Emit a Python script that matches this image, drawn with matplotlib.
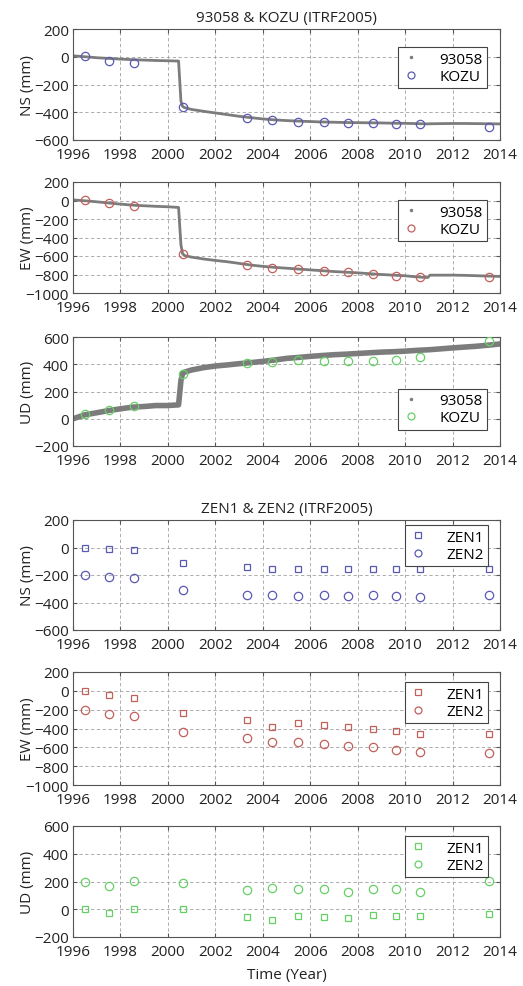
import matplotlib
matplotlib.use("Agg")
import matplotlib.pyplot as plt
from matplotlib.lines import Line2D

plt.rcParams['font.family'] = ['Open Sans', 'DejaVu Sans']
plt.rcParams['font.size'] = 11

# campaign epochs (KOZU / ZEN1 / ZEN2)
epochs = [1996.5, 1997.5, 1998.57, 2000.62, 2003.33, 2004.38, 2005.5, 2006.6,
          2007.58, 2008.63, 2009.62, 2010.62, 2013.55]

# continuous station 93058
t_93058 = [1996.0, 1996.5, 1997.0, 1997.5, 1998.0, 1998.5, 1999.0, 1999.5, 2000.0,
           2000.45, 2000.55, 2000.62, 2000.7, 2001.0, 2001.5, 2002.0, 2002.5, 2003.0,
           2003.5, 2004.0, 2004.5, 2005.0, 2005.5, 2006.0, 2006.5, 2007.0, 2007.5,
           2008.0, 2008.5, 2009.0, 2009.5, 2010.0, 2010.5, 2010.95, 2011.05, 2011.5,
           2012.0, 2012.5, 2013.0, 2013.5, 2014.0]
ns_93058 = [7, 0, -7, -12, -17, -21, -24, -27, -29,
            -31, -320, -358, -366, -380, -393, -405, -417, -429,
            -439, -448, -455, -460, -464, -467, -470, -472, -474,
            -475, -476, -477, -479, -480, -482, -484, -483, -482,
            -481, -481, -482, -483, -484]
ew_93058 = [7, -3, -14, -27, -39, -50, -57, -63, -68,
            -75, -480, -575, -595, -612, -632, -648, -662, -680,
            -698, -712, -723, -732, -741, -750, -759, -768, -775,
            -782, -791, -800, -807, -814, -826, -833, -807, -807,
            -807, -809, -813, -817, -821]
ud_93058 = [0, 29, 44, 60, 73, 85, 90, 97, 97,
            102, 280, 335, 342, 358, 375, 387, 395, 404,
            412, 421, 431, 443, 450, 458, 464, 470, 474,
            479, 484, 489, 492, 496, 502, 506, 507, 513,
            520, 526, 532, 540, 549]

kozu_ns = [5, -28, -48, -361, -443, -458, -470, -470, -477, -480, -482, -487, -506]
kozu_ew = [2, -29, -62, -579, -700, -725, -739, -757, -775, -793, -811, -832, -832]
kozu_ud = [34, 65, 90, 332, 407, 417, 431, 421, 426, 424, 431, 453, 572]

zen1_ns = [0, -12, -17, -110, -141, -154, -154, -154, -159, -154, -154, -154, -157]
zen2_ns = [-202, -215, -220, -310, -342, -346, -354, -349, -354, -346, -354, -359, -349]
zen1_ew = [0, -39, -75, -236, -311, -379, -346, -368, -379, -404, -425, -454, -461]
zen2_ew = [-200, -243, -271, -432, -504, -539, -546, -564, -582, -600, -629, -646, -657]
zen1_ud = [0, -24, 5, 0, -55, -74, -50, -55, -62, -43, -48, -50, -33]
zen2_ud = [200, 167, 202, 190, 138, 152, 143, 143, 126, 148, 143, 126, 207]

ylims = {'NS': (-600, 200), 'EW': (-1000, 200), 'UD': (-200, 600)}

blue = '#5a5ab4'
red = '#c2605c'
green = '#66d066'
gray = '#7c7c7c'
txt = '#222222'

W, H = 523, 987
fig = plt.figure(figsize=(W / 100, H / 100), dpi=100)

# pixel boxes (top, bottom) of the six panels
boxes = [(30, 141), (183, 294), (338, 447), (521, 631), (673, 786), (827, 938)]
left, right = 73, 500

def make_ax(top, bottom, comp):
    ax = fig.add_axes([left / W, 1 - bottom / H, (right - left) / W, (bottom - top) / H])
    ax.set_xlim(1996, 2014)
    ax.set_xticks(range(1996, 2015, 2))
    lo, hi = ylims[comp]
    ax.set_ylim(lo, hi)
    ax.set_yticks(range(lo, hi + 1, 200))
    ax.grid(True, color='#a0a0a0', lw=0.6, ls=(0, (4, 3)))
    ax.tick_params(direction='in', length=3, top=True, right=True, color='#555555',
                   labelcolor=txt, labelsize=11, pad=3)
    ax.tick_params(axis='x', pad=5)
    for s in ax.spines.values():
        s.set_color('#555555')
        s.set_linewidth(0.8)
    ax.set_ylabel(comp + ' (mm)', fontsize=11, color=txt)
    ax.yaxis.set_label_coords(-0.09, 0.5)
    return ax

def legend(ax, handles, labels, loc, anchor):
    leg = ax.legend(handles, labels, loc=loc, bbox_to_anchor=anchor, borderaxespad=0,
                    fancybox=False, framealpha=1, edgecolor='#444444', fontsize=11,
                    handlelength=1.1, handletextpad=1.3, borderpad=0.3, labelspacing=0.15)
    leg.get_frame().set_linewidth(0.8)

comps = ['NS', 'EW', 'UD']
kozu = [kozu_ns, kozu_ew, kozu_ud]
cont = [ns_93058, ew_93058, ud_93058]
zen1 = [zen1_ns, zen1_ew, zen1_ud]
zen2 = [zen2_ns, zen2_ew, zen2_ud]
colors = [blue, red, green]
band = [2.0, 2.0, 4.0]

for i in range(3):
    top, bottom = boxes[i]
    ax = make_ax(top, bottom, comps[i])
    ax.plot(t_93058, cont[i], color=gray, lw=band[i], solid_joinstyle='round', zorder=2)
    ax.plot(epochs, kozu[i], ls='none', marker='o', ms=6, mfc='none', mec=colors[i],
            mew=0.9, zorder=3)
    h1 = Line2D([], [], ls='none', marker='.', ms=3, color=gray)
    h2 = Line2D([], [], ls='none', marker='o', ms=5, mfc='none', mec=colors[i], mew=0.9)
    if i == 2:
        legend(ax, [h1, h2], ['93058', 'KOZU'], 'lower right',
               (0.970, (bottom - 431) / (bottom - top)))
    else:
        legend(ax, [h1, h2], ['93058', 'KOZU'], 'upper right',
               (0.970, 1 - 18 / (bottom - top)))
    if i == 0:
        ax.set_title('93058 & KOZU (ITRF2005)', fontsize=11, color=txt, pad=6)

for i in range(3):
    top, bottom = boxes[i + 3]
    ax = make_ax(top, bottom, comps[i])
    ax.plot(epochs, zen1[i], ls='none', marker='s', ms=4.5, mfc='none', mec=colors[i],
            mew=0.9, zorder=3)
    ax.plot(epochs, zen2[i], ls='none', marker='o', ms=6, mfc='none', mec=colors[i],
            mew=0.9, zorder=3)
    h1 = Line2D([], [], ls='none', marker='s', ms=4, mfc='none', mec=colors[i], mew=0.9)
    h2 = Line2D([], [], ls='none', marker='o', ms=5, mfc='none', mec=colors[i], mew=0.9)
    gap = 5 if i == 0 else 10
    legend(ax, [h1, h2], ['ZEN1', 'ZEN2'], 'upper right',
           (0.972, 1 - gap / (bottom - top)))
    if i == 0:
        ax.set_title('ZEN1 & ZEN2 (ITRF2005)', fontsize=11, color=txt, pad=6)
    if i == 2:
        ax.set_xlabel('Time (Year)', fontsize=11, color=txt, labelpad=6)

fig.savefig('out.png', dpi=100)
